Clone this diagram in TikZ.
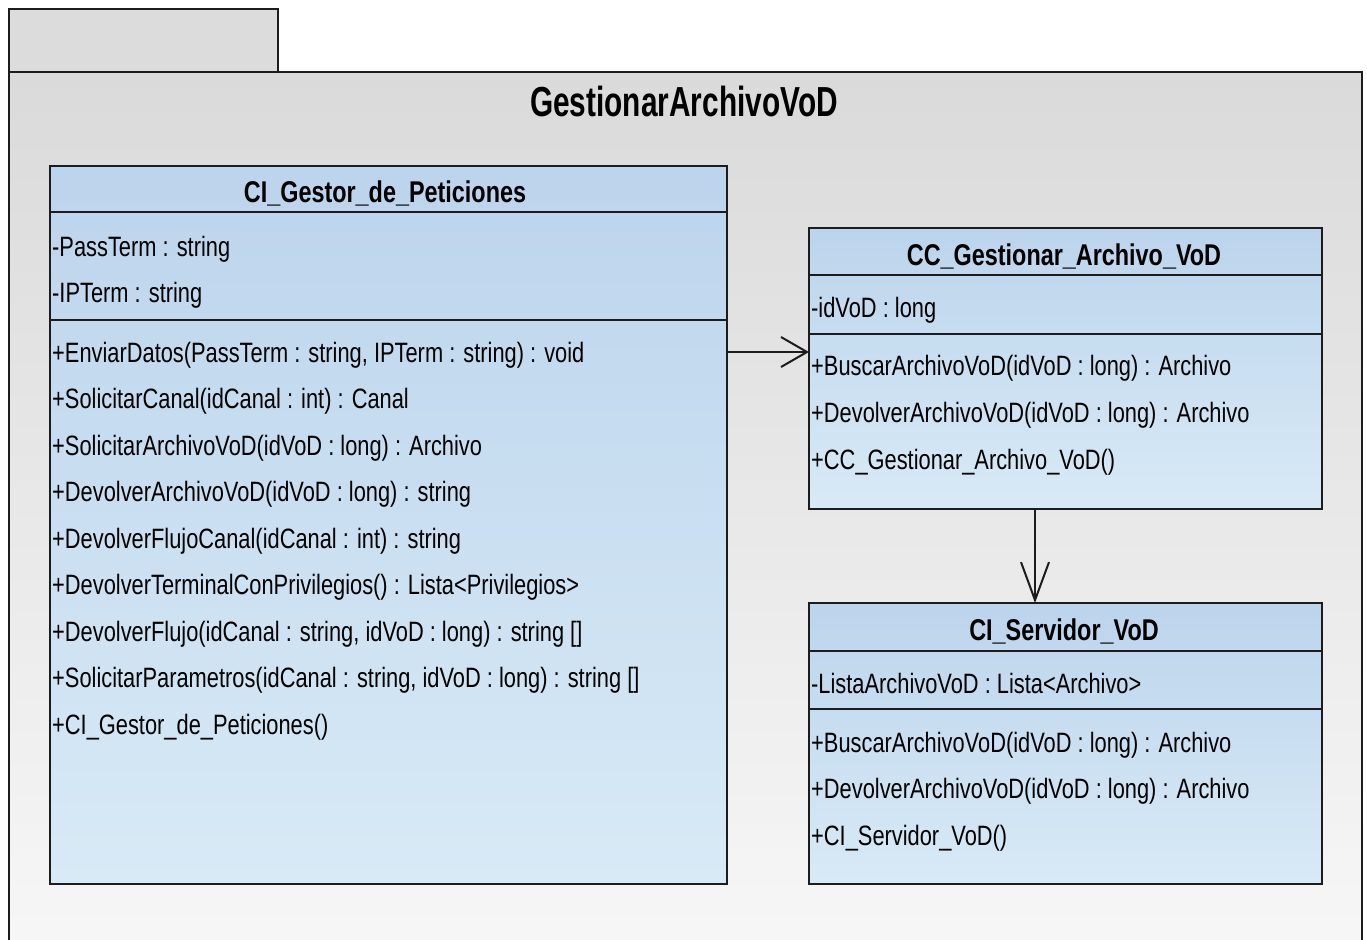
\documentclass[tikz,border=0pt]{standalone}
\usepackage{fontspec}
\setmainfont{Liberation Sans}[FakeStretch=0.78]
\newfontfamily\pkgfont{Liberation Sans}[FakeStretch=0.71]
\usetikzlibrary{arrows.meta}

\definecolor{pkgtop}{RGB}{218,218,218}
\definecolor{pkgbot}{RGB}{247,247,247}
\definecolor{tabfill}{RGB}{220,220,220}
\definecolor{clstop}{RGB}{188,212,236}
\definecolor{clsbot}{RGB}{216,234,246}
\definecolor{edge}{RGB}{28,28,28}

\begin{document}
\begin{tikzpicture}[x=1pt,y=-1pt,
  outline/.style={draw=edge, line width=2pt},
  pkgbox/.style={outline, rectangle, anchor=north west, inner sep=0pt, outer sep=0pt},
  classbox/.style={outline, rectangle, anchor=north west, inner sep=0pt, outer sep=0pt,
    top color=clstop, bottom color=clsbot},
  pkgname/.style={anchor=base, inner sep=0pt,
    font=\pkgfont\fontsize{42}{42}\selectfont\bfseries},
  cname/.style={anchor=base, inner sep=0pt,
    font=\fontsize{30}{30}\selectfont\bfseries},
  member/.style={anchor=base west, inner sep=0pt,
    font=\fontsize{28}{28}\selectfont},
  dep/.style={draw=edge, line width=2pt},
  barbA/.style={-{Straight Barb[length=26pt,width=30pt,line width=2pt]}},
  barbB/.style={-{Straight Barb[length=38pt,width=28pt,line width=2pt]}},
]
\useasboundingbox (0,0) rectangle (1367,939);
\fill[white] (0,0) rectangle (1367,939);
\clip (0,0) rectangle (1367,939);

% package frame and tab
\node[pkgbox, minimum width=1353pt, minimum height=890pt,
      top color=pkgtop, bottom color=pkgbot] (pkg) at (9,72) {};
\node[pkgbox, minimum width=269pt, minimum height=63pt, fill=tabfill] (tab) at (9,9) {};
\node[pkgname] (pkgtitle) at (684,117) {GestionarArchivoVoD};

% class boxes
\node[classbox, minimum width=677pt, minimum height=718pt] (gestor) at (50,166) {};
\node[classbox, minimum width=513pt, minimum height=281pt] (cc) at (809,228) {};
\node[classbox, minimum width=513pt, minimum height=281pt] (srv) at (809,603) {};

% compartment separators
\draw[outline] ([yshift=-46pt]gestor.north west) -- ([yshift=-46pt]gestor.north east);
\draw[outline] ([yshift=-154pt]gestor.north west) -- ([yshift=-154pt]gestor.north east);
\draw[outline] ([yshift=-47pt]cc.north west) -- ([yshift=-47pt]cc.north east);
\draw[outline] ([yshift=-106pt]cc.north west) -- ([yshift=-106pt]cc.north east);
\draw[outline] ([yshift=-48pt]srv.north west) -- ([yshift=-48pt]srv.north east);
\draw[outline] ([yshift=-106pt]srv.north west) -- ([yshift=-106pt]srv.north east);

% CI_Gestor_de_Peticiones
\node[cname] (gestorname) at (385,202) {CI\_Gestor\_de\_Peticiones};
\node[member] (g1) at (52,256) {-PassTerm : string};
\node[member] (g2) at (52,302) {-IPTerm : string};
\node[member] (g3) at (52,362) {+EnviarDatos(PassTerm : string, IPTerm : string) : void};
\node[member] (g4) at (52,408.5) {+SolicitarCanal(idCanal : int) : Canal};
\node[member] (g5) at (52,455) {+SolicitarArchivoVoD(idVoD : long) : Archivo};
\node[member] (g6) at (52,501.5) {+DevolverArchivoVoD(idVoD : long) : string};
\node[member] (g7) at (52,548) {+DevolverFlujoCanal(idCanal : int) : string};
\node[member] (g8) at (52,594.5) {+DevolverTerminalConPrivilegios() : Lista<Privilegios>};
\node[member] (g9) at (52,641) {+DevolverFlujo(idCanal : string, idVoD : long) : string []};
\node[member] (g10) at (52,687.5) {+SolicitarParametros(idCanal : string, idVoD : long) : string []};
\node[member] (g11) at (52,734) {+CI\_Gestor\_de\_Peticiones()};

% CC_Gestionar_Archivo_VoD
\node[cname] (ccname) at (1064,265) {CC\_Gestionar\_Archivo\_VoD};
\node[member] (c1) at (811,317) {-idVoD : long};
\node[member] (c2) at (811,375) {+BuscarArchivoVoD(idVoD : long) : Archivo};
\node[member] (c3) at (811,422) {+DevolverArchivoVoD(idVoD : long) : Archivo};
\node[member] (c4) at (811,469) {+CC\_Gestionar\_Archivo\_VoD()};

% CI_Servidor_VoD
\node[cname] (srvname) at (1064,640) {CI\_Servidor\_VoD};
\node[member] (s1) at (811,693) {-ListaArchivoVoD : Lista<Archivo>};
\node[member] (s2) at (811,752) {+BuscarArchivoVoD(idVoD : long) : Archivo};
\node[member] (s3) at (811,798) {+DevolverArchivoVoD(idVoD : long) : Archivo};
\node[member] (s4) at (811,845) {+CI\_Servidor\_VoD()};

% dependencies
\coordinate (rowA) at (0,352);
\coordinate (colB) at (1035,0);
\draw[dep, barbA] (gestor.east |- rowA) -- (cc.west |- rowA);
\draw[dep, barbB] (cc.south -| colB) -- (srv.north -| colB);
\end{tikzpicture}
\end{document}
